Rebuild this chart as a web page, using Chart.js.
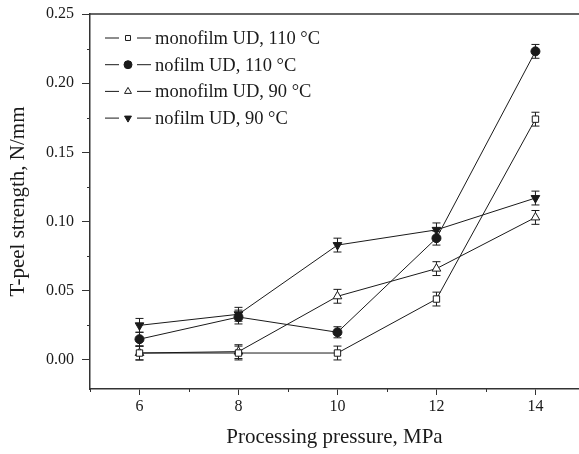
<!DOCTYPE html>
<html>
<head>
<meta charset="utf-8">
<script src="https://cdn.jsdelivr.net/npm/chart.js@4/dist/chart.umd.min.js"></script>
<style>
  html, body { margin: 0; padding: 0; background: #fff; overflow: hidden; }
  canvas { display: block; }
</style>
</head>
<body>
<canvas id="peelChart" width="579" height="454"></canvas>
<script>
// processing pressure, MPa
const pressure = [6, 8, 10, 12, 14];

// T-peel strength, N/mm
const monofilm110 = [0.005, 0.005, 0.005, 0.044, 0.174];
const nofilm110   = [0.015, 0.031, 0.020, 0.088, 0.223];
const monofilm90  = [0.005, 0.006, 0.046, 0.066, 0.103];
const nofilm90    = [0.025, 0.033, 0.083, 0.094, 0.117];

// standard deviation
const monofilm110Err = [0.005, 0.005, 0.005, 0.005, 0.005];
const nofilm110Err   = [0.005, 0.005, 0.004, 0.005, 0.005];
const monofilm90Err  = [0.005, 0.005, 0.005, 0.005, 0.005];
const nofilm90Err    = [0.005, 0.005, 0.005, 0.005, 0.005];

const seriesNames = [
    'monofilm UD, 110 °C',
    'nofilm UD, 110 °C',
    'monofilm UD, 90 °C',
    'nofilm UD, 90 °C'
];

const xTicks = [6, 8, 10, 12, 14];
const xMinorTicks = [5, 7, 9, 11, 13];
const yTicks = [0.00, 0.05, 0.10, 0.15, 0.20, 0.25];
const yMinorTicks = [0.025, 0.075, 0.125, 0.175, 0.225];

const serif = '"Liberation Serif", "DejaVu Serif", "Times New Roman", serif';
const ink = '#1a1a1a';

function pts(values) {
    return pressure.map((p, i) => ({ x: p, y: values[i] }));
}

function series(label, values, errs, style) {
    return Object.assign({
        label: label,
        data: pts(values),
        errors: errs,
        borderColor: ink,
        borderWidth: 1,
        pointBorderColor: ink,
        pointBorderWidth: 1,
        tension: 0
    }, style);
}

const datasets = [
    series(seriesNames[0], monofilm110, monofilm110Err, {
        pointStyle: 'rect', pointRadius: 4.5, pointBackgroundColor: '#fff'
    }),
    series(seriesNames[1], nofilm110, nofilm110Err, {
        pointStyle: 'circle', pointRadius: 4.5, pointBackgroundColor: ink
    }),
    series(seriesNames[2], monofilm90, monofilm90Err, {
        pointStyle: 'triangle', pointRadius: 5, pointBackgroundColor: '#fff'
    }),
    series(seriesNames[3], nofilm90, nofilm90Err, {
        pointStyle: 'triangle', pointRotation: 180, pointRadius: 5, pointBackgroundColor: ink
    })
];

// vertical error bars with caps, drawn under the markers
const errorBars = {
    id: 'errorBars',
    beforeDatasetsDraw(chart) {
        const ctx = chart.ctx;
        const xs = chart.scales.x, ys = chart.scales.y;
        ctx.save();
        ctx.strokeStyle = ink;
        ctx.lineWidth = 1;
        chart.data.datasets.forEach(ds => {
            ds.data.forEach((p, i) => {
                const e = ds.errors[i];
                const px = xs.getPixelForValue(p.x);
                const top = ys.getPixelForValue(p.y + e);
                const bot = ys.getPixelForValue(p.y - e);
                ctx.beginPath();
                ctx.moveTo(px, top); ctx.lineTo(px, bot);
                ctx.moveTo(px - 4, top); ctx.lineTo(px + 4, top);
                ctx.moveTo(px - 4, bot); ctx.lineTo(px + 4, bot);
                ctx.stroke();
            });
        });
        ctx.restore();
    }
};

// top frame line, minor ticks and the legend with line-marker-line samples
const decorations = {
    id: 'decorations',
    afterDraw(chart) {
        const ctx = chart.ctx;
        const a = chart.chartArea;
        const xs = chart.scales.x, ys = chart.scales.y;
        ctx.save();
        ctx.strokeStyle = '#333';
        ctx.lineWidth = 1.5;
        ctx.beginPath();
        ctx.moveTo(a.left, a.top); ctx.lineTo(chart.width, a.top);
        ctx.stroke();

        ctx.lineWidth = 1;
        ctx.beginPath();
        xMinorTicks.forEach(v => {
            const px = Math.round(xs.getPixelForValue(v)) + 0.5;
            ctx.moveTo(px, a.bottom); ctx.lineTo(px, a.bottom + 3);
        });
        yMinorTicks.forEach(v => {
            const py = Math.round(ys.getPixelForValue(v)) + 0.5;
            ctx.moveTo(a.left - 3, py); ctx.lineTo(a.left, py);
        });
        ctx.stroke();

        ctx.font = '18.5px ' + serif;
        ctx.textBaseline = 'middle';
        ctx.textAlign = 'left';
        chart.data.datasets.forEach((ds, i) => {
            const y = 38 + i * 26.7;
            const mx = 128;
            ctx.strokeStyle = ink;
            ctx.lineWidth = 1;
            ctx.beginPath();
            ctx.moveTo(105, y); ctx.lineTo(119, y);
            ctx.moveTo(137, y); ctx.lineTo(151, y);
            ctx.stroke();
            ctx.fillStyle = ds.pointBackgroundColor;
            ctx.strokeStyle = ds.pointBorderColor;
            Chart.helpers.drawPoint(ctx, {
                pointStyle: ds.pointStyle,
                rotation: ds.pointRotation || 0,
                radius: ds.pointStyle === 'rect' ? 3.5 : 4,
                borderWidth: 1
            }, mx, y);
            ctx.fillStyle = ink;
            ctx.fillText(ds.label, 155, y + 1);
        });
        ctx.restore();
    }
};

new Chart(document.getElementById('peelChart'), {
    type: 'line',
    data: { datasets: datasets },
    options: {
        responsive: false,
        animation: false,
        layout: { autoPadding: false, padding: { top: 14, left: 0, right: 0, bottom: 0 } },
        plugins: { legend: { display: false }, tooltip: { enabled: false } },
        scales: {
            x: {
                type: 'linear',
                min: 5,
                max: 14.88,
                afterBuildTicks: scale => { scale.ticks = xTicks.map(v => ({ value: v })); },
                afterFit: scale => {
                    scale.height = 65;
                    scale.paddingLeft = 0;
                    scale.paddingRight = 0;
                },
                ticks: { color: ink, font: { family: serif, size: 16 }, padding: 2 },
                grid: { drawOnChartArea: false, tickLength: 6, color: '#333' },
                border: { color: '#333', width: 1.5 },
                title: {
                    display: true,
                    text: 'Processing pressure, MPa',
                    color: ink,
                    font: { family: serif, size: 21 },
                    padding: { top: 0, bottom: 4 }
                }
            },
            y: {
                min: -0.021,
                max: 0.25,
                afterBuildTicks: scale => { scale.ticks = yTicks.map(v => ({ value: v })); },
                afterFit: scale => {
                    scale.width = 90;
                    scale.paddingTop = 0;
                    scale.paddingBottom = 0;
                },
                ticks: {
                    color: ink,
                    font: { family: serif, size: 16 },
                    padding: 8,
                    callback: v => v.toFixed(2)
                },
                grid: { drawOnChartArea: false, tickLength: 8, color: '#333' },
                border: { color: '#333', width: 1.5 },
                title: {
                    display: true,
                    text: 'T-peel strength, N/mm',
                    color: ink,
                    font: { family: serif, size: 21 },
                    padding: { top: 6, bottom: 0 }
                }
            }
        }
    },
    plugins: [errorBars, decorations]
});
</script>
</body>
</html>
